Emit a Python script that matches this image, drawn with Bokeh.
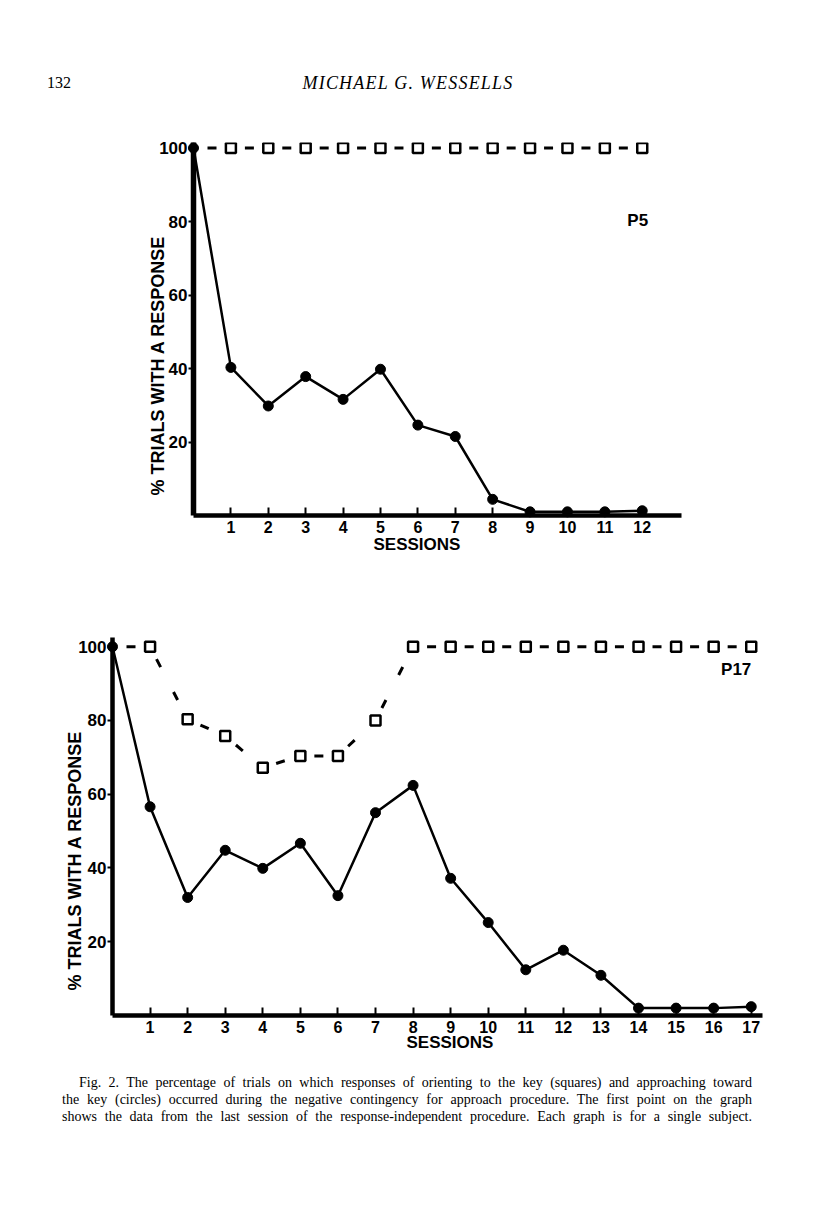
from bokeh.plotting import figure
from bokeh.models import Range1d, FixedTicker, Label, Div, Title
from bokeh.embed import file_html
from bokeh.resources import INLINE

# ---------------- data ----------------
p5_sessions = [0, 1, 2, 3, 4, 5, 6, 7, 8, 9, 10, 11, 12]
p5_orienting = [100, 100, 100, 100, 100, 100, 100, 100, 100, 100, 100, 100, 100]
p5_approaching = [100, 40.3, 29.8, 37.8, 31.6, 39.8, 24.6, 21.5, 4.4, 1.0, 1.0, 1.0, 1.3]

p17_sessions = [0, 1, 2, 3, 4, 5, 6, 7, 8, 9, 10, 11, 12, 13, 14, 15, 16, 17]
p17_orienting = [100, 100, 80.3, 75.8, 67.2, 70.4, 70.4, 80.0, 100, 100, 100, 100, 100, 100, 100, 100, 100, 100]
p17_approaching = [100, 56.6, 32.0, 44.8, 39.9, 46.7, 32.5, 55.0, 62.4, 37.2, 25.2, 12.4, 17.7, 10.9, 2.0, 2.0, 2.0, 2.4]

p5_xticks = [1, 2, 3, 4, 5, 6, 7, 8, 9, 10, 11, 12]
p17_xticks = [1, 2, 3, 4, 5, 6, 7, 8, 9, 10, 11, 12, 13, 14, 15, 16, 17]
y_ticks = [20, 40, 60, 80, 100]

y_title = "% TRIALS WITH A RESPONSE"
x_title = "SESSIONS"
page_number = "132"
running_head = "MICHAEL G. WESSELLS"
caption_lines = [
    "Fig. 2. The percentage of trials on which responses of orienting to the key (squares) and approaching toward",
    "the key (circles) occurred during the negative contingency for approach procedure. The first point on the graph",
    "shows the data from the last session of the response-independent procedure. Each graph is for a single subject.",
]

FONT = "Liberation Sans"


def make_chart(sessions, orienting, approaching, xticks, subject,
               width, height, x_end, y_end, borders, ytitle_offset, ytitle_standoff,
               xtitle_offset, xtitle_standoff, subj_xy, yaxis_width):
    left, right, top, bottom = borders
    p = figure(width=width, height=height, output_backend="svg", toolbar_location=None,
               x_range=Range1d(0, x_end), y_range=Range1d(0, y_end),
               min_border_left=left, min_border_right=right,
               min_border_top=top, min_border_bottom=bottom,
               frame_width=width - left - right, frame_height=height - top - bottom)
    p.outline_line_color = None
    p.grid.visible = False
    p.background_fill_color = "white"
    p.border_fill_color = "white"

    # axes
    p.xaxis.ticker = FixedTicker(ticks=xticks)
    p.yaxis.ticker = FixedTicker(ticks=y_ticks)
    p.xaxis.minor_tick_line_color = None
    p.yaxis.minor_tick_line_color = None
    p.xaxis.axis_line_width = 4.5
    p.yaxis.axis_line_width = yaxis_width
    p.xaxis.major_tick_in = 8
    p.xaxis.major_tick_out = 0
    p.yaxis.major_tick_in = 0
    p.yaxis.major_tick_out = 5
    p.xaxis.major_tick_line_width = 2
    p.yaxis.major_tick_line_width = 2
    p.xaxis.major_label_standoff = 5
    p.yaxis.major_label_standoff = 1
    p.xaxis.major_label_text_font = FONT
    p.yaxis.major_label_text_font = FONT
    p.xaxis.major_label_text_font_size = "16px"
    p.yaxis.major_label_text_font_size = "17px"
    p.xaxis.major_label_text_font_style = "bold"
    p.yaxis.major_label_text_font_style = "bold"
    p.xaxis.major_label_text_color = "black"
    p.yaxis.major_label_text_color = "black"

    # axis titles (side panels)
    p.add_layout(Title(text=y_title, align="left", offset=ytitle_offset,
                       standoff=ytitle_standoff,
                       text_font=FONT, text_font_style="bold", text_font_size="18px",
                       text_color="black"), "left")
    p.add_layout(Title(text=x_title, align="left", offset=xtitle_offset,
                       standoff=xtitle_standoff,
                       text_font=FONT, text_font_style="bold", text_font_size="17px",
                       text_color="black"), "below")

    # orienting (squares, dashed connecting segments)
    seg_xs = [[sessions[i], sessions[i + 1]] for i in range(len(sessions) - 1)]
    seg_ys = [[orienting[i], orienting[i + 1]] for i in range(len(orienting) - 1)]
    p.multi_line(seg_xs, seg_ys, line_color="black", line_width=3,
                 line_dash="9 28", line_dash_offset=23)
    p.scatter(sessions[1:], orienting[1:], marker="square", size=10,
              fill_color="white", line_color="black", line_width=2.5)

    # approaching (filled circles, solid line)
    p.line(sessions, approaching, line_color="black", line_width=2.5)
    p.scatter(sessions, approaching, marker="circle", size=10,
              fill_color="black", line_color="black", level="overlay")

    # subject label
    p.add_layout(Label(x=subj_xy[0], y=subj_xy[1], text=subject,
                       text_align="center", text_baseline="middle",
                       text_font=FONT, text_font_style="bold",
                       text_font_size="17px", text_color="black"))
    return p


p_top = make_chart(p5_sessions, p5_orienting, p5_approaching, p5_xticks, "P5",
                   width=800, height=460, x_end=13.05, y_end=101.5,
                   borders=(193, 119, 20, 67),
                   ytitle_offset=20, ytitle_standoff=-22,
                   xtitle_offset=180, xtitle_standoff=-6,
                   subj_xy=(11.88, 80.3), yaxis_width=5.5)

p_bot = make_chart(p17_sessions, p17_orienting, p17_approaching, p17_xticks, "P17",
                   width=800, height=480, x_end=17.3, y_end=102.5,
                   borders=(112, 38, 55, 47),
                   ytitle_offset=25, ytitle_standoff=-18,
                   xtitle_offset=294, xtitle_standoff=-10,
                   subj_xy=(16.6, 93.8), yaxis_width=4.5)

header = Div(width=800, height=112, text=(
    '<div style="position:relative;width:800px;height:112px;'
    'font-family:\'Liberation Serif\',serif;font-size:18px;line-height:20px;color:black;">'
    '<span style="position:absolute;left:42px;top:68px;font-size:16px;">' + page_number + '</span>'
    '<span style="position:absolute;left:3px;top:68px;width:800px;text-align:center;'
    'font-style:italic;letter-spacing:1.2px;">' + running_head + '</span></div>'))

cap_html = ('<div style="position:relative;width:800px;height:90px;'
            'font-family:\'Liberation Serif\',serif;font-size:14px;line-height:17px;color:black;">'
            '<div style="position:absolute;left:57px;top:7px;width:690px;">')
for i, line in enumerate(caption_lines):
    indent = "17px" if i == 0 else "0px"
    cap_html += ('<div style="text-align:justify;text-align-last:justify;white-space:nowrap;'
                 'padding-left:' + indent + ';">' + line + '</div>')
cap_html += '</div></div>'
caption = Div(width=800, height=90, text=cap_html)

open("out.html", "w").write(file_html([header, p_top, p_bot, caption], INLINE))
